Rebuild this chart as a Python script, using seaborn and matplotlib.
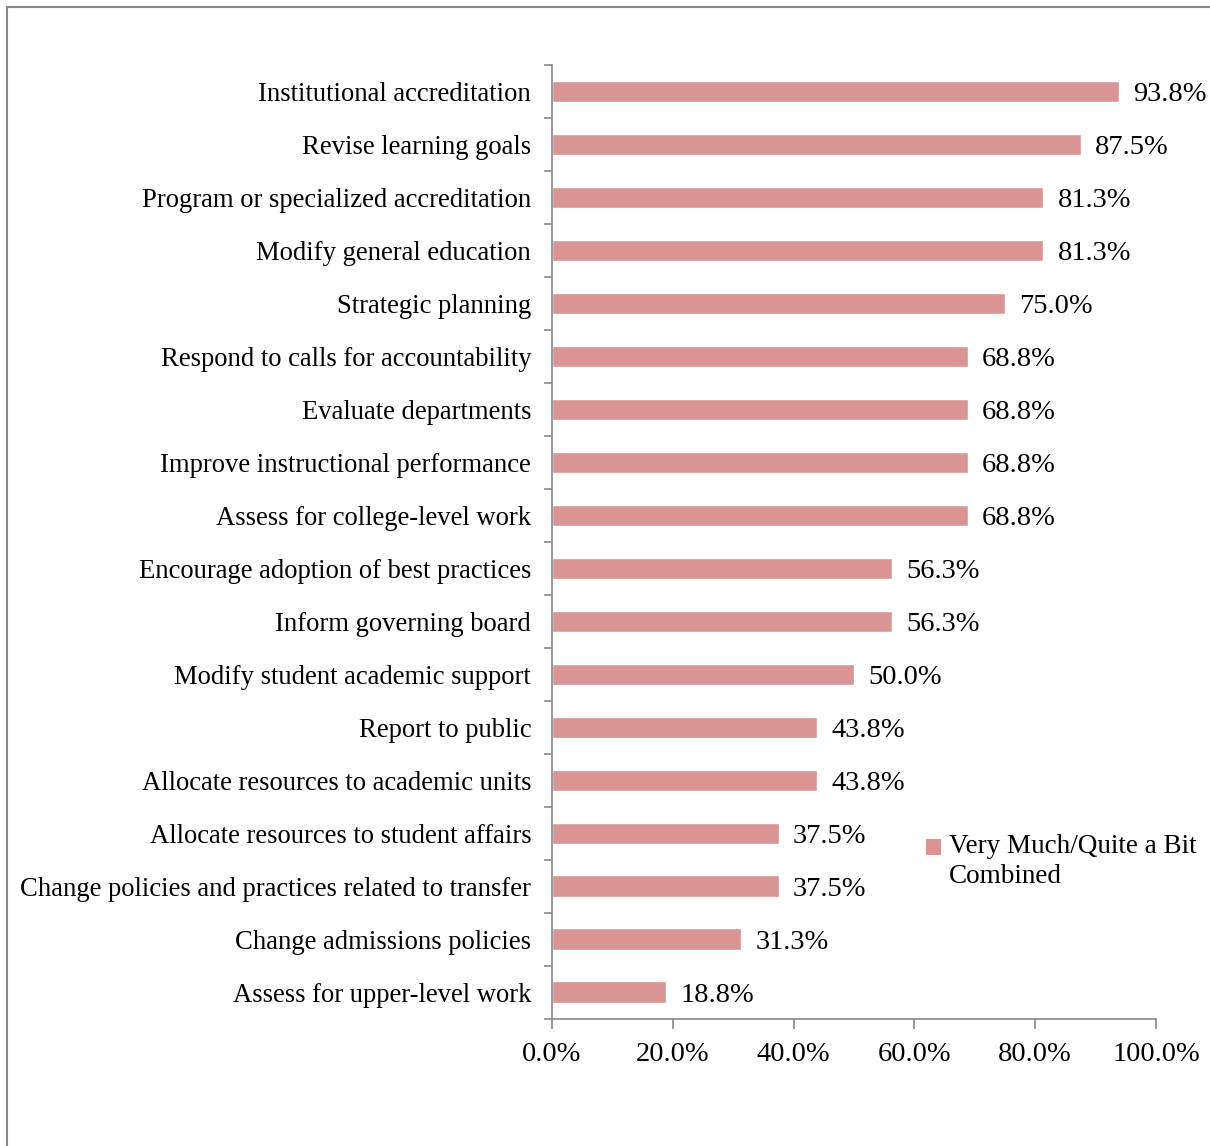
import matplotlib
matplotlib.use("Agg")
import matplotlib.pyplot as plt
import seaborn as sns
import pandas as pd
import numpy as np
from matplotlib.patches import Rectangle, Patch

categories = [
    "Institutional accreditation",
    "Revise learning goals",
    "Program or specialized accreditation",
    "Modify general education",
    "Strategic planning",
    "Respond to calls for accountability",
    "Evaluate departments",
    "Improve instructional performance",
    "Assess for college-level work",
    "Encourage adoption of best practices",
    "Inform governing board",
    "Modify student academic support",
    "Report to public",
    "Allocate resources to academic units",
    "Allocate resources to student affairs",
    "Change policies and practices related to transfer",
    "Change admissions policies",
    "Assess for upper-level work",
]
values = [93.8, 87.5, 81.3, 81.3, 75.0, 68.8, 68.8, 68.8, 68.8,
          56.3, 56.3, 50.0, 43.8, 43.8, 37.5, 37.5, 31.3, 18.8]
series_name = "Very Much/Quite a Bit\nCombined"
x_ticks = [0, 20, 40, 60, 80, 100]

sns.set_theme(style="white")
plt.rcParams['font.family'] = ['Liberation Serif', 'DejaVu Serif']
plt.rcParams['text.color'] = 'black'
plt.rcParams['xtick.color'] = 'black'
plt.rcParams['ytick.color'] = 'black'

df = pd.DataFrame({"cat": categories, "val": values})

fig = plt.figure(figsize=(12.1, 11.46), dpi=100)
ax = fig.add_axes([552/1210, 1-1018.5/1146, (1156-552)/1210, (1018.5-65)/1146])

color = "#D99594"
sns.barplot(data=df, y="cat", x="val", orient="h", color=color, width=0.40,
            ax=ax, saturation=1)

for i, v in enumerate(values):
    ax.text(v + 2.4, i, f"{v:.1f}%", va="center_baseline", ha="left",
            fontsize=20.5, color="black")

ax.set_xlim(0, 100)
ax.set_ylim(17.5, -0.5)
ax.set_xticks(x_ticks)
ax.set_xticklabels([f"{t:.1f}%" for t in x_ticks], fontsize=20.5)
ax.set_xlabel("")
ax.set_ylabel("")
ax.tick_params(axis="y", which="major", length=0, pad=15, labelsize=19.2, labelcolor="black")
ax.set_yticks(np.arange(-0.5, 18, 1), minor=True)
ax.tick_params(axis="y", which="minor", length=6, direction="out", left=True, color="#888888", width=1.2)
ax.tick_params(axis="x", which="major", length=7, direction="out", bottom=True, color="#888888",
               width=1.2, pad=10, labelcolor="black")

for s in ["top", "right"]:
    ax.spines[s].set_visible(False)
for s in ["left", "bottom"]:
    ax.spines[s].set_color("#888888")
    ax.spines[s].set_linewidth(1.2)

handle = Patch(facecolor=color, edgecolor="none")
leg = ax.legend([handle], [series_name], loc="upper left",
                bbox_to_anchor=((926-552)/(1156-552), 1-(834-65)/(1018.5-65)),
                frameon=False, fontsize=19.5, handlelength=0.55, handleheight=0.55,
                handletextpad=0.3, borderaxespad=0, borderpad=0)
for t in leg.get_texts():
    t.set_linespacing(1.25)
    t.set_color("black")
# align the marker with the first text line
for h in leg.legend_handles:
    h.set_y(h.get_y() + 10.5)

# outer chart border (partially visible)
fig.patches.append(Rectangle((7/1210, -0.1), 1.2, 1-7/1146 + 0.1, transform=fig.transFigure,
                             fill=False, edgecolor="#888888", linewidth=1.5))

fig.savefig("out.png", dpi=100)
